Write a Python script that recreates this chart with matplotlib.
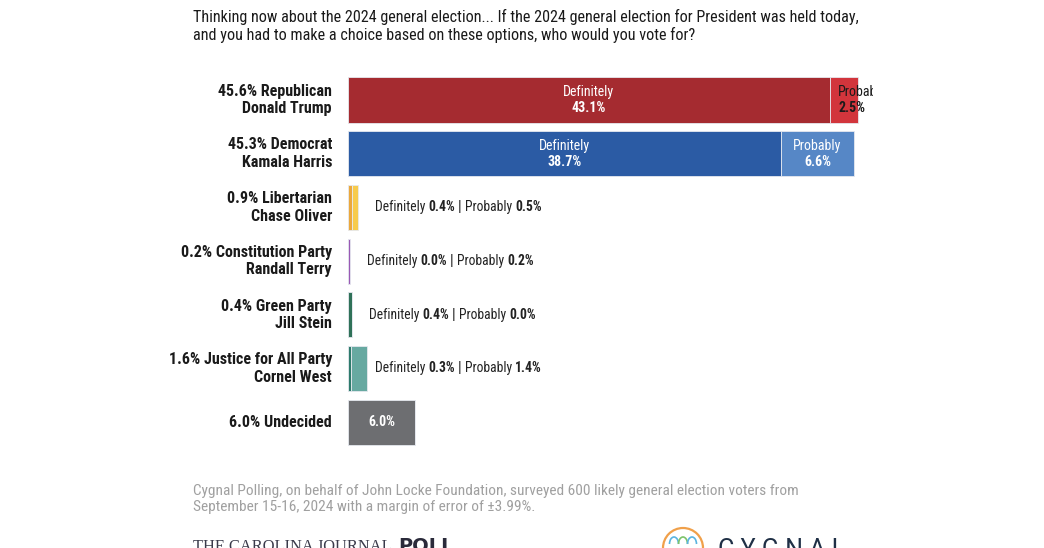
import matplotlib.pyplot as plt
from matplotlib.patches import Ellipse, Arc
from matplotlib.transforms import offset_copy

plt.rcParams['font.family'] = ['Roboto Condensed', 'DejaVu Sans']

labels = ['45.6% Republican\nDonald Trump',
          '45.3% Democrat\nKamala Harris',
          '0.9% Libertarian\nChase Oliver',
          '0.2% Constitution Party\nRandall Terry',
          '0.4% Green Party\nJill Stein',
          '1.6% Justice for All Party\nCornel West',
          '6.0% Undecided']
definitely = [43.1, 38.7, 0.4, 0.0, 0.4, 0.3, 6.0]
probably = [2.5, 6.6, 0.5, 0.2, 0.0, 1.4, 0.0]
def_colors = ['#a52b30', '#2b5ba4', '#eba83c', '#9a59b5', '#2f7158', '#2e7b6c', '#6d6e71']
prob_colors = ['#d2353c', '#5687c6', '#f7cb4c', '#9a59b5', '#2f7158', '#67a9a1', '#6d6e71']

fig = plt.figure(figsize=(10.44, 5.48), dpi=100)
ax = fig.add_axes([348 / 1044, 1 - 449 / 548, 525 / 1044, (449 - 73.15) / 548])
ax.set_xlim(0, 46.96)
ax.set_ylim(6.5, -0.5)
ax.axis('off')

ys = list(range(len(labels)))
h = 0.84
ax.barh(ys, definitely, height=h, color=def_colors, edgecolor='#e6e9ef', linewidth=0.6)
ax.barh(ys, probably, left=definitely, height=h, color=prob_colors, edgecolor='#e6e9ef', linewidth=0.6)

# category labels
for y, lab in zip(ys, labels):
    ax.text(-16 / 525, y, lab, transform=ax.get_yaxis_transform(), ha='right', va='center',
            fontsize=11.5, fontweight='bold', color='#1a1a1a', linespacing=1.2)

# labels inside big bars
for i in [0, 1]:
    xc = definitely[i] / 2
    ax.text(xc, ys[i] - 0.15, 'Definitely', ha='center', va='center', color='white', fontsize=10)
    ax.text(xc, ys[i] + 0.15, f'{definitely[i]:.1f}%', ha='center', va='center', color='white',
            fontsize=10, fontweight='bold')

# trump "probably" label runs past the frame edge and is cut off
xp = definitely[0] + 0.73
ax.text(xp, ys[0] - 0.15, 'Probably', ha='left', va='center', color='#1a1a1a', fontsize=10, clip_on=True)
ax.text(xp, ys[0] + 0.15, f'{probably[0]:.1f}%', ha='left', va='center', color='#1a1a1a',
        fontsize=10, fontweight='bold', clip_on=True)
xp = definitely[1] + probably[1] / 2
ax.text(xp, ys[1] - 0.15, 'Probably', ha='center', va='center', color='white', fontsize=10)
ax.text(xp, ys[1] + 0.15, f'{probably[1]:.1f}%', ha='center', va='center', color='white',
        fontsize=10, fontweight='bold')

ax.text(definitely[6] / 2, ys[6], f'{definitely[6]:.1f}%', ha='center', va='center',
        color='white', fontsize=10, fontweight='bold')

# mixed-weight labels for small bars
fig.canvas.draw()
renderer = fig.canvas.get_renderer()
for i in [2, 3, 4, 5]:
    x0 = min(definitely[i] + probably[i] + 1.5, 2.4)
    parts = [('Definitely ', 'normal'), (f'{definitely[i]:.1f}%', 'bold'), (' | ', 'bold'),
             ('Probably ', 'normal'), (f'{probably[i]:.1f}%', 'bold')]
    dx = 0
    for s, w in parts:
        tr = offset_copy(ax.transData, fig=fig, x=dx, y=0, units='dots')
        t = ax.text(x0, ys[i], s, transform=tr, ha='left', va='center', fontsize=9.8,
                    fontweight=w, color='#222222')
        dx += t.get_window_extent(renderer).width

# title
fig.text(193 / 1044, 1 - 26 / 548,
         'Thinking now about the 2024 general election... If the 2024 general election for President was held today,\n'
         'and you had to make a choice based on these options, who would you vote for?',
         ha='left', va='center', fontsize=11.6, color='#1a1a1a', linespacing=1.2)

# footer
fig.text(193 / 1044, 1 - 499 / 548,
         'Cygnal Polling, on behalf of John Locke Foundation, surveyed 600 likely general election voters from\n'
         'September 15-16, 2024 with a margin of error of \u00b13.99%.',
         ha='left', va='center', fontsize=11.1, color='#a0a0a0', linespacing=1.2)

# logos (cut off at the bottom edge)
fig.text(193 / 1044, 1 - 539 / 548, 'THE CAROLINA JOURNAL', family='Liberation Serif', fontsize=11.8,
         color='#3a3a4a', ha='left', va='top')
fig.text(398 / 1044, 1 - 537 / 548, 'POLL', family='DejaVu Sans', fontweight='bold', fontsize=14,
         color='#2a2a3a', ha='left', va='top')
fig.patches.append(Ellipse((683 / 1044, 1 - 548 / 548), 40 / 1044, 40 / 548, transform=fig.transFigure,
                           facecolor='none', edgecolor='#f0a04a', linewidth=1.6))
for cx, col in [(674, '#5ab4e0'), (683, '#7cc36a'), (692, '#5ab4e0')]:
    fig.patches.append(Arc((cx / 1044, 1 - 544 / 548), 9 / 1044, 14 / 548, theta1=0, theta2=180,
                           transform=fig.transFigure, edgecolor=col, linewidth=1.2))
fig.text(718 / 1044, 1 - 538 / 548, 'C Y G N A L', family='Roboto', fontsize=18,
         color='#1f2f45', ha='left', va='top')

fig.savefig('out.png', dpi=100)
